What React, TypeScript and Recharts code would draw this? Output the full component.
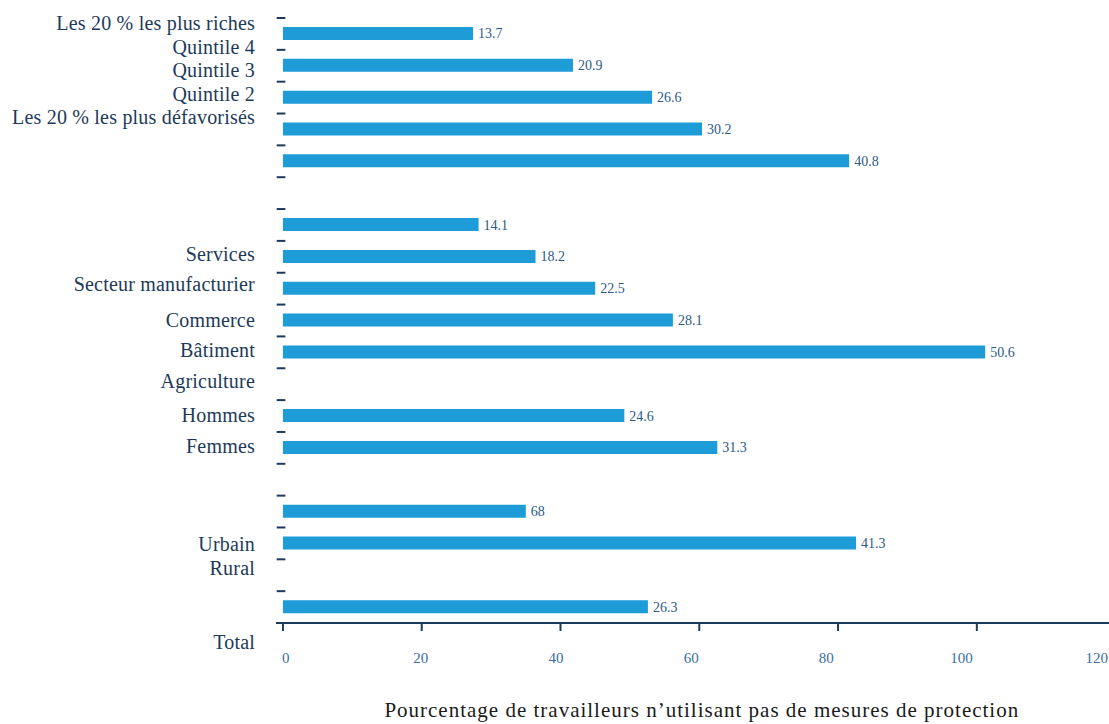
import React from 'react';
import { BarChart, Bar, XAxis, YAxis, LabelList, ReferenceLine, Label } from 'recharts';

// 19 category slots (top to bottom); empty slots have no bar
const categories = ['Q5', 'Q4', 'Q3', 'Q2', 'Q1', 'gapA', 'S1', 'S2', 'S3', 'S4', 'S5', 'gapB', 'H', 'F', 'gapC', 'U', 'R', 'gapD', 'T'];
// drawn bar lengths
const barLengths = [27.4, 41.8, 53.2, 60.4, 81.6, null, 28.2, 36.4, 45.0, 56.2, 101.2, null, 49.2, 62.6, null, 35.0, 82.6, null, 52.6];
// printed value labels next to the bars
const valueLabels = ['13.7', '20.9', '26.6', '30.2', '40.8', null, '14.1', '18.2', '22.5', '28.1', '50.6', null, '24.6', '31.3', null, '68', '41.3', null, '26.3'];

// left-hand labels and their positions in slot units (0 = top of first slot)
const axisLabels = ['Les 20 % les plus riches', 'Quintile 4', 'Quintile 3', 'Quintile 2', 'Les 20 % les plus défavorisés', 'Services', 'Secteur manufacturier', 'Commerce', 'Bâtiment', 'Agriculture', 'Hommes', 'Femmes', 'Urbain', 'Rural', 'Total'];
const axisLabelPos = [0.157, 0.911, 1.633, 2.387, 3.109, 7.412, 8.354, 9.485, 10.427, 11.401, 12.469, 13.442, 16.52, 17.274, 19.598];

// slot boundaries carrying small tick dashes
const dashSlots = [0, 1, 2, 3, 4, 5, 6, 7, 8, 9, 10, 11, 12, 13, 14, 15, 16, 17, 18];

const xTicks = [0, 20, 40, 60, 80, 100, 120];
const xTitle = 'Pourcentage de travailleurs n’utilisant pas de mesures de protection';

const data = categories.map((c, i) => ({ key: c, slot: i, val: barLengths[i], lbl: valueLabels[i] }));

const FONT = '"Liberation Serif", "DejaVu Serif", serif';
const NAVY = '#1c3a5b';
const BAR = '#1e9cd8';
const TICKBLUE = '#3a6ea3';

const XTick = (props: any) => {
  const { x, y, payload } = props;
  const v = payload.value as number;
  return (
    <text x={x + 2.7 - 0.18 * v} y={y} dy="0.71em" textAnchor="middle" fill={TICKBLUE} fontSize={15} fontFamily={FONT}>
      {v}
    </text>
  );
};

export default function App() {
  return (
    <div style={{ position: 'absolute', left: 0, top: 0, width: 1109, height: 724, overflow: 'hidden', background: '#fff' }}>
      <BarChart
        width={1130}
        height={724}
        data={data}
        layout="vertical"
        margin={{ top: 18, right: 14.4, bottom: 0, left: 0 }}
      >
        <XAxis
          type="number"
          domain={[-1, 120]}
          allowDataOverflow
          ticks={xTicks}
          interval={0}
          height={101}
          tickSize={8}
          tickMargin={21}
          axisLine={{ stroke: NAVY, strokeWidth: 2 }}
          tickLine={{ stroke: NAVY, strokeWidth: 2 }}
          tick={<XTick />}
        >
          <Label
            value={xTitle}
            position="insideBottom"
            offset={7}
            dx={6}
            fill="#1a1a1a"
            fontSize={21}
            letterSpacing={1}
            fontFamily={FONT}
          />
        </XAxis>
        <YAxis yAxisId="cat" type="category" dataKey="key" hide width={0} />
        <YAxis
          yAxisId="pos"
          type="number"
          dataKey="slot"
          domain={[0, 19]}
          allowDataOverflow
          ticks={axisLabelPos}
          interval={0}
          width={276}
          axisLine={false}
          tickLine={false}
          tickSize={0}
          tickMargin={21}
          tickFormatter={(v: number) => {
            const idx = axisLabelPos.indexOf(v);
            return idx >= 0 ? axisLabels[idx] : '';
          }}
          tick={{ fill: NAVY, fontSize: 20, letterSpacing: 0.2, fontFamily: FONT, textAnchor: 'end' }}
        />
        {dashSlots.map((k) => (
          <ReferenceLine
            key={k}
            yAxisId="pos"
            segment={[{ x: -0.9, y: k }, { x: 0.35, y: k }]}
            stroke={NAVY}
            strokeWidth={2}
          />
        ))}
        <Bar yAxisId="cat" dataKey="val" fill={BAR} barSize={13} isAnimationActive={false}>
          <LabelList dataKey="lbl" position="right" offset={5} fill="#2b5a88" fontSize={14} fontFamily={FONT} />
        </Bar>
      </BarChart>
    </div>
  );
}
